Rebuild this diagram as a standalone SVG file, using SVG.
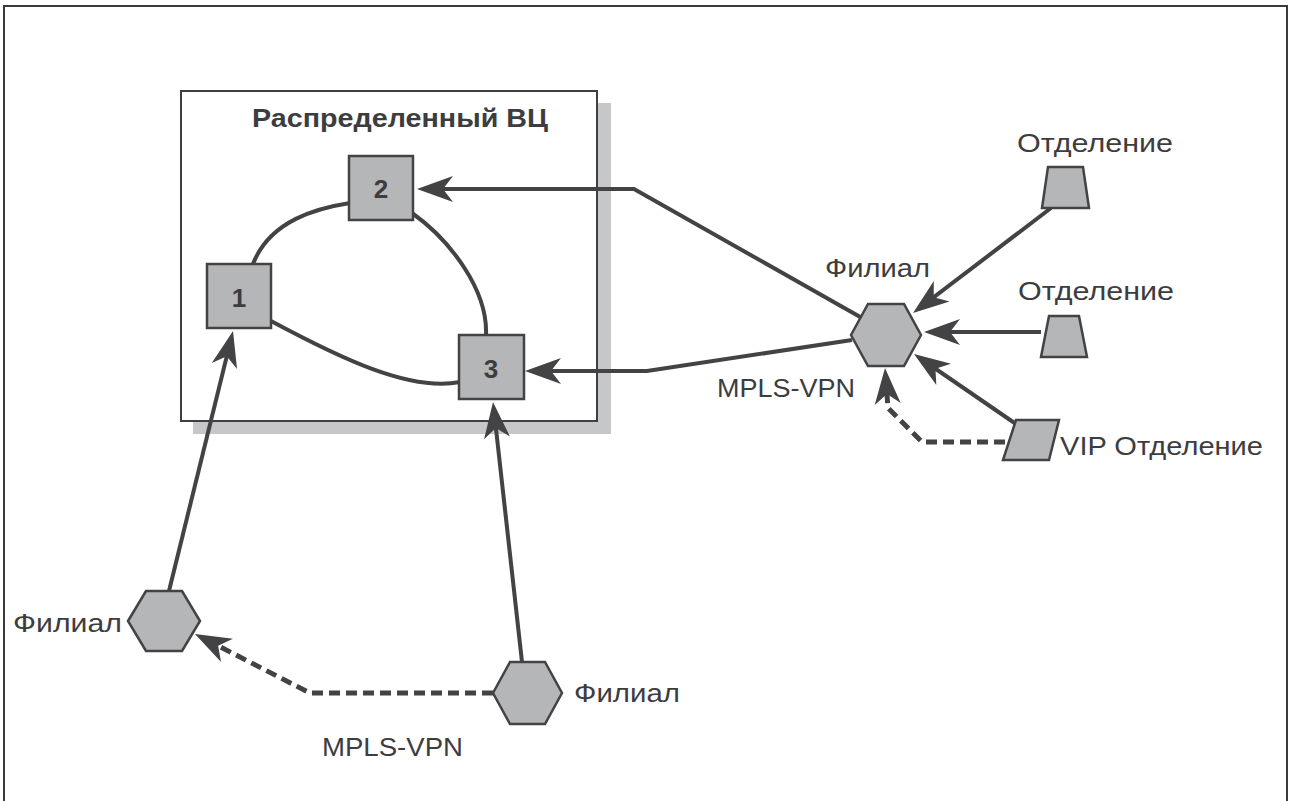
<svg xmlns="http://www.w3.org/2000/svg" width="1289" height="801" viewBox="0 0 1289 801">
  <style>
    .frame { fill: none; stroke: #3a3a3c; stroke-width: 2; }
    .box { fill: #ffffff; stroke: #3f3f41; stroke-width: 2; }
    .shadow { fill: #c6c7c9; }
    .node { fill: #b5b6b8; stroke: #434345; stroke-width: 2.5; stroke-linejoin: miter; }
    .link { fill: none; stroke: #434345; stroke-width: 4; stroke-linejoin: miter; }
    .arrow { fill: none; stroke: #434345; stroke-width: 4; stroke-linejoin: miter; marker-end: url(#ah); }
    .dashed { fill: none; stroke: #434345; stroke-width: 5; stroke-dasharray: 11 6; marker-end: url(#ah); }
    .label { font-family: "Liberation Sans", Arial, sans-serif; font-size: 26px; fill: #3d3d3f; }
    .title { font-family: "Liberation Sans", Arial, sans-serif; font-size: 26px; font-weight: bold; fill: #3d3d3f; }
    .num { font-family: "Liberation Sans", Arial, sans-serif; font-size: 26px; font-weight: bold; fill: #3d3d3f; text-anchor: middle; }
  </style>
  <defs>
    <marker id="ah" markerUnits="userSpaceOnUse" markerWidth="60" markerHeight="40" refX="0" refY="0" orient="auto" style="overflow:visible">
      <path d="M8,0 L-28,-13 L-18,0 L-28,13 Z" fill="#434345"/>
    </marker>
  </defs>

  <rect width="1289" height="801" fill="#ffffff"/>
  <!-- outer frame, open at the bottom -->
  <path class="frame" d="M4,801 V6 H1287 V801"/>

  <!-- distributed data centre container -->
  <g id="dc">
    <rect class="shadow" x="193" y="103" width="418" height="331"/>
    <rect class="box" x="181" y="91" width="416" height="330"/>
    <text class="title" x="252" y="127" textLength="296" lengthAdjust="spacingAndGlyphs">Распределенный ВЦ</text>
  </g>

  <g id="connectors">
    <!-- ring inside the data centre -->
    <path class="link" d="M253,264 C270,220 318,208 350,203"/>
    <path class="link" d="M412,213 C450,240 488,290 486,335"/>
    <path class="link" d="M271,321 C340,358 410,392 460,382"/>
    <!-- branch links into the data centre -->
    <path class="arrow" d="M862,318 L634,189 L425,189"/>
    <path class="arrow" d="M852,340 L647,371 L533,371"/>
    <path class="arrow" d="M169,591 L231.1,338.8"/>
    <path class="arrow" d="M522,662 L493.9,410"/>
    <!-- offices into the branch -->
    <path class="arrow" d="M1051,208 L919.4,308.2"/>
    <path class="arrow" d="M1041,332 L932,332"/>
    <path class="arrow" d="M1016,424 L920.6,358.5"/>
    <!-- MPLS-VPN backup links -->
    <path class="dashed" d="M1005,442 L922,442 L888,408 L885.6,376"/>
    <path class="dashed" d="M493,693 L310,693 L202.1,637.6"/>
  </g>

  <g id="node1">
    <rect class="node" x="207" y="264" width="64" height="64"/>
    <text class="num" x="239" y="307">1</text>
  </g>
  <g id="node2">
    <rect class="node" x="349" y="156" width="64" height="64"/>
    <text class="num" x="381" y="198">2</text>
  </g>
  <g id="node3">
    <rect class="node" x="459" y="335" width="65" height="64"/>
    <text class="num" x="491" y="378">3</text>
  </g>

  <g id="branch-east">
    <polygon class="node" points="851,335 868,304 904,304 921,335 904,366 868,366"/>
    <text class="label" x="825" y="277" textLength="105" lengthAdjust="spacingAndGlyphs">Филиал</text>
    <text class="label" x="717" y="397" textLength="138" lengthAdjust="spacingAndGlyphs">MPLS-VPN</text>
  </g>
  <g id="branch-west">
    <polygon class="node" points="128,621 146,591 182,591 200,621 182,651 146,651"/>
    <text class="label" x="13" y="632" textLength="109" lengthAdjust="spacingAndGlyphs">Филиал</text>
  </g>
  <g id="branch-south">
    <polygon class="node" points="493,693 510,662 545,662 562,693 545,724 510,724"/>
    <text class="label" x="574" y="702" textLength="106" lengthAdjust="spacingAndGlyphs">Филиал</text>
    <text class="label" x="322" y="756" textLength="141" lengthAdjust="spacingAndGlyphs">MPLS-VPN</text>
  </g>

  <g id="office-1">
    <polygon class="node" points="1048,167 1083,167 1089,208 1042,208"/>
    <text class="label" x="1017" y="152" textLength="156" lengthAdjust="spacingAndGlyphs">Отделение</text>
  </g>
  <g id="office-2">
    <polygon class="node" points="1049,316 1079,316 1087,357 1041,357"/>
    <text class="label" x="1018" y="300" textLength="156" lengthAdjust="spacingAndGlyphs">Отделение</text>
  </g>
  <g id="office-vip">
    <polygon class="node" points="1016,420 1059,420 1049,460 1003,460"/>
    <text class="label" x="1060" y="455" textLength="203" lengthAdjust="spacingAndGlyphs">VIP Отделение</text>
  </g>
</svg>
